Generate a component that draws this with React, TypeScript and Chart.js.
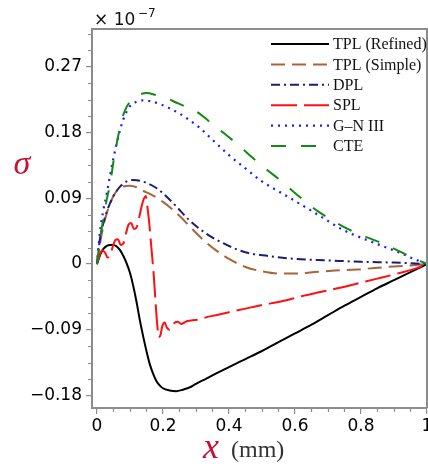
import React, { useEffect, useRef } from 'react';
import { Chart, registerables } from 'chart.js';

Chart.register(...registerables);

// ---------- data (values in units of 1e-7) ----------
const tplRefinedX = [0, 0.01, 0.02, 0.03, 0.04, 0.05, 0.06, 0.07, 0.08, 0.09, 0.10, 0.11, 0.12, 0.13, 0.14, 0.15, 0.16, 0.17, 0.18, 0.19, 0.20, 0.22, 0.24, 0.26, 0.28, 0.30, 0.33, 0.36, 0.40, 0.45, 0.50, 0.55, 0.60, 0.65, 0.70, 0.75, 0.80, 0.85, 0.90, 0.95, 1.0];
const tplRefinedY = [0, 0.013, 0.021, 0.025, 0.026, 0.026, 0.024, 0.019, 0.011, 0.001, -0.012, -0.030, -0.052, -0.077, -0.099, -0.119, -0.137, -0.150, -0.160, -0.166, -0.170, -0.173, -0.174, -0.172, -0.169, -0.164, -0.157, -0.150, -0.141, -0.130, -0.119, -0.107, -0.095, -0.083, -0.070, -0.057, -0.045, -0.033, -0.022, -0.011, 0];

const tplSimpleX = [0, 0.01, 0.02, 0.03, 0.04, 0.05, 0.06, 0.08, 0.10, 0.12, 0.14, 0.16, 0.18, 0.20, 0.22, 0.25, 0.28, 0.32, 0.36, 0.40, 0.45, 0.50, 0.55, 0.60, 0.66, 0.72, 0.80, 0.88, 0.95, 1.0];
const tplSimpleY = [0, 0.030, 0.053, 0.070, 0.083, 0.093, 0.100, 0.106, 0.107, 0.105, 0.100, 0.096, 0.091, 0.085, 0.078, 0.066, 0.052, 0.034, 0.019, 0.007, -0.004, -0.010, -0.013, -0.013, -0.011, -0.009, -0.007, -0.004, -0.002, 0];

const dplX = [0, 0.01, 0.02, 0.03, 0.05, 0.07, 0.09, 0.11, 0.13, 0.155, 0.18, 0.20, 0.24, 0.28, 0.33, 0.38, 0.45, 0.52, 0.60, 0.70, 0.80, 0.90, 1.0];
const dplY = [0, 0.037, 0.057, 0.072, 0.093, 0.106, 0.113, 0.115, 0.114, 0.110, 0.104, 0.097, 0.079, 0.060, 0.042, 0.029, 0.016, 0.011, 0.007, 0.005, 0.003, 0.002, 0];

const splX = [0, 0.008, 0.016, 0.024, 0.032, 0.040, 0.048, 0.056, 0.064, 0.072, 0.080, 0.088, 0.096, 0.104, 0.112, 0.120, 0.128, 0.136, 0.142, 0.148, 0.153, 0.158, 0.165, 0.172, 0.178, 0.183, 0.187, 0.192, 0.198, 0.205, 0.212, 0.220, 0.228, 0.236, 0.245, 0.255, 0.265, 0.275, 0.290, 0.310, 0.330, 0.360, 0.400, 0.450, 0.500, 0.560, 0.620, 0.680, 0.760, 0.840, 0.920, 0.960, 1.0];
const splY = [0, 0.012, 0.019, 0.016, 0.009, 0.012, 0.024, 0.033, 0.034, 0.026, 0.028, 0.042, 0.054, 0.056, 0.048, 0.050, 0.064, 0.080, 0.089, 0.093, 0.078, 0.058, 0.022, -0.015, -0.055, -0.085, -0.100, -0.098, -0.085, -0.080, -0.087, -0.090, -0.085, -0.080, -0.079, -0.082, -0.080, -0.078, -0.077, -0.076, -0.073, -0.070, -0.066, -0.061, -0.056, -0.051, -0.044, -0.038, -0.030, -0.021, -0.012, -0.007, 0];

const gn3X = [0, 0.01, 0.02, 0.03, 0.04, 0.05, 0.065, 0.08, 0.10, 0.12, 0.14, 0.16, 0.19, 0.22, 0.25, 0.28, 0.31, 0.35, 0.40, 0.455, 0.50, 0.56, 0.62, 0.66, 0.70, 0.74, 0.80, 0.84, 0.88, 0.92, 0.96, 1.0];
const gn3Y = [0, 0.047, 0.075, 0.097, 0.122, 0.145, 0.175, 0.198, 0.216, 0.222, 0.224, 0.223, 0.219, 0.213, 0.206, 0.197, 0.187, 0.170, 0.149, 0.129, 0.113, 0.097, 0.081, 0.070, 0.059, 0.048, 0.036, 0.029, 0.022, 0.015, 0.007, 0];

const cteX = [0, 0.01, 0.02, 0.03, 0.04, 0.05, 0.06, 0.075, 0.09, 0.11, 0.13, 0.15, 0.18, 0.21, 0.24, 0.27, 0.30, 0.33, 0.355, 0.385, 0.42, 0.455, 0.515, 0.56, 0.59, 0.63, 0.67, 0.72, 0.76, 0.80, 0.85, 0.90, 0.95, 1.0];
const cteY = [0, 0.035, 0.064, 0.089, 0.110, 0.140, 0.165, 0.197, 0.215, 0.226, 0.232, 0.234, 0.231, 0.227, 0.221, 0.215, 0.209, 0.199, 0.189, 0.179, 0.166, 0.152, 0.129, 0.113, 0.101, 0.086, 0.072, 0.058, 0.048, 0.040, 0.031, 0.021, 0.010, 0];

const seriesLabels = ['TPL (Refined)', 'TPL (Simple)', 'DPL', 'SPL', 'G\u2013N III', 'CTE'];

const xMajorTicks = [0, 0.2, 0.4, 0.6, 0.8, 1];
const yMajorTicks = [-0.18, -0.09, 0, 0.09, 0.18, 0.27];
const xRange = [-0.015, 1.0];
const yRange = [-0.197, 0.3216];

// ---------- styles ----------
const AXIS_COLOR = '#8c8c8c';
const TICK_FONT = 'DejaVu Sans';

const seriesStyles = [
  { color: '#000000', dash: [] as number[], width: 2 },
  { color: '#a8643a', dash: [14, 7], width: 2 },
  { color: '#1c1c78', dash: [9, 4, 2, 4], width: 2 },
  { color: '#ff1010', dash: [26, 7], width: 2 },
  { color: '#1a1aff', dash: [2, 5], width: 2.2 },
  { color: '#138a13', dash: [15, 15], width: 2 },
];

const seriesData = [
  [tplRefinedX, tplRefinedY],
  [tplSimpleX, tplSimpleY],
  [dplX, dplY],
  [splX, splY],
  [gn3X, gn3Y],
  [cteX, cteY],
];

function fmtY(v: number): string {
  if (Math.abs(v) < 1e-9) return '0';
  return (v < 0 ? '\u2212' : '') + Math.abs(v).toFixed(2);
}

const decorPlugin = {
  id: 'decor',
  afterDraw(chart: any) {
    const { ctx, chartArea: a, scales } = chart;
    const xs = scales.x;
    const ys = scales.y;
    ctx.save();
    // top & right frame
    ctx.strokeStyle = AXIS_COLOR;
    ctx.lineWidth = 2;
    ctx.beginPath();
    ctx.moveTo(a.left, a.top);
    ctx.lineTo(a.right, a.top);
    ctx.lineTo(a.right, a.bottom);
    ctx.stroke();

    // minor ticks
    ctx.lineWidth = 1.2;
    ctx.beginPath();
    for (let i = 0; i < xMajorTicks.length - 1; i++) {
      const step = (xMajorTicks[i + 1] - xMajorTicks[i]) / 4;
      for (let k = 1; k < 4; k++) {
        const px = Math.round(xs.getPixelForValue(xMajorTicks[i] + k * step)) + 0.5;
        ctx.moveTo(px, a.bottom);
        ctx.lineTo(px, a.bottom + 4);
      }
    }
    const yStep = (yMajorTicks[1] - yMajorTicks[0]) / 4;
    for (let v = yMajorTicks[0] - 3 * yStep; v < yRange[1]; v += yStep) {
      if (v < yRange[0]) continue;
      const isMajor = yMajorTicks.some((m) => Math.abs(m - v) < 1e-6);
      if (isMajor) continue;
      const py = Math.round(ys.getPixelForValue(v)) + 0.5;
      ctx.moveTo(a.left - 4, py);
      ctx.lineTo(a.left, py);
    }
    ctx.stroke();

    // multiplier
    ctx.fillStyle = '#111';
    ctx.textBaseline = 'alphabetic';
    ctx.textAlign = 'left';
    ctx.font = `17px "${TICK_FONT}"`;
    ctx.fillText('\u00d7 10', 94, 25);
    ctx.font = `12px "${TICK_FONT}"`;
    ctx.fillText('\u22127', 138, 17);

    // y title
    ctx.fillStyle = '#c8102e';
    ctx.font = 'italic 34px "Liberation Serif"';
    ctx.textAlign = 'center';
    ctx.fillText('\u03c3', 22, 174);

    // x title
    ctx.textAlign = 'left';
    ctx.font = 'italic 36px "Liberation Serif"';
    ctx.fillText('x', 203, 458);
    ctx.fillStyle = '#333';
    ctx.font = '24px "Liberation Serif"';
    ctx.fillText('(mm)', 231, 457);

    // legend
    const lx0 = 271, lx1 = 329, ly0 = 44, lstep = 20.4;
    ctx.font = '16px "Liberation Serif"';
    ctx.textBaseline = 'middle';
    for (let i = 0; i < seriesLabels.length; i++) {
      const st = seriesStyles[i];
      const yy = ly0 + i * lstep;
      ctx.strokeStyle = st.color;
      ctx.lineWidth = st.width;
      ctx.setLineDash(st.dash);
      ctx.beginPath();
      ctx.moveTo(lx0, yy);
      ctx.lineTo(lx1, yy);
      ctx.stroke();
      ctx.setLineDash([]);
      ctx.fillStyle = '#111';
      ctx.fillText(seriesLabels[i], 333, yy + 1);
    }
    ctx.restore();
  },
};

export default function App() {
  const ref = useRef<HTMLCanvasElement | null>(null);
  useEffect(() => {
    if (!ref.current) return;
    const datasets = seriesData.map(([xv, yv], i) => ({
      label: seriesLabels[i],
      data: xv.map((x, j) => ({ x, y: yv[j] })),
      borderColor: seriesStyles[i].color,
      borderWidth: seriesStyles[i].width,
      borderDash: seriesStyles[i].dash,
      pointRadius: 0,
      fill: false,
      cubicInterpolationMode: 'monotone' as const,
    })).reverse();

    const chart = new Chart(ref.current, {
      type: 'line',
      data: { datasets },
      plugins: [decorPlugin],
      options: {
        animation: false,
        responsive: true,
        maintainAspectRatio: false,
        layout: { padding: { top: 29, right: 1, left: 0, bottom: 0 } },
        plugins: { legend: { display: false }, tooltip: { enabled: false } },
        scales: {
          x: {
            type: 'linear',
            min: xRange[0],
            max: xRange[1],
            afterBuildTicks: (s: any) => { s.ticks = xMajorTicks.map((v) => ({ value: v })); },
            afterFit: (s: any) => { s.height = 58; s.paddingLeft = 0; s.paddingRight = 0; },
            ticks: {
              autoSkip: false,
              maxRotation: 0,
              padding: 2,
              color: '#000',
              font: { family: TICK_FONT, size: 17 },
              callback: (v: any) => (Math.abs(v) < 1e-9 ? '0' : String(v)),
            },
            grid: { drawOnChartArea: false, drawTicks: true, tickLength: 6, color: AXIS_COLOR, lineWidth: 1.2 },
            border: { display: true, color: AXIS_COLOR, width: 2 },
          },
          y: {
            type: 'linear',
            min: yRange[0],
            max: yRange[1],
            afterBuildTicks: (s: any) => { s.ticks = yMajorTicks.map((v) => ({ value: v })); },
            afterFit: (s: any) => { s.width = 92; s.paddingTop = 0; s.paddingBottom = 0; },
            ticks: {
              padding: 4,
              color: '#000',
              font: { family: TICK_FONT, size: 17 },
              callback: (v: any) => fmtY(Number(v)),
            },
            grid: { drawOnChartArea: false, drawTicks: true, tickLength: 6, color: AXIS_COLOR, lineWidth: 1.2 },
            border: { display: true, color: AXIS_COLOR, width: 2 },
          },
        },
      },
    });
    return () => chart.destroy();
  }, []);

  return (
    <div style={{ position: 'fixed', left: 0, top: 0, width: 428, height: 466, background: '#fff' }}>
      <canvas ref={ref} />
    </div>
  );
}
